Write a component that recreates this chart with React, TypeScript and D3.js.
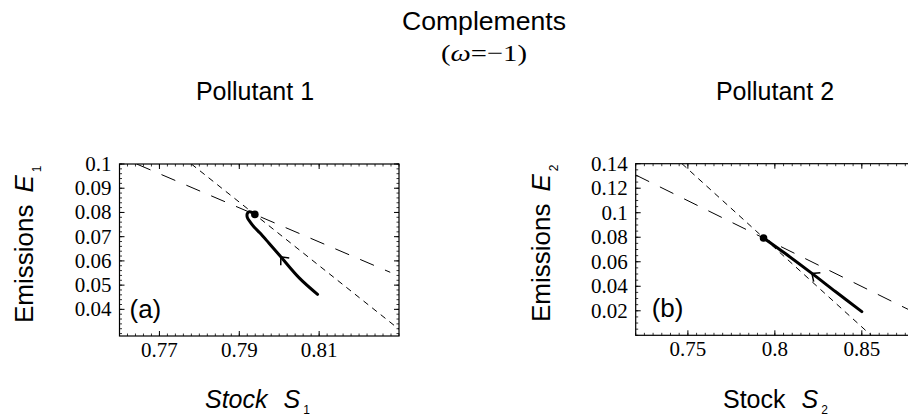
import React from "react";
import * as d3 from "d3";

const W = 908;
const H = 416;

const SANS = "'Liberation Sans', Arial, Helvetica, sans-serif";
const SERIF = "'Liberation Serif', 'Times New Roman', serif";

// Pollutant 1 (a)
const p1XDomain = [0.76, 0.83];
const p1YDomain = [0.029, 0.1];
const p1XTicks = [0.77, 0.79, 0.81];
const p1YTicks = [0.04, 0.05, 0.06, 0.07, 0.08, 0.09, 0.1];
const p1MinorX = 0.002;
const p1MinorY = 0.002;
const p1LongDash = [[0.7643, 0.1], [0.8278, 0.0553]];
const p1ShortDash = [[0.778, 0.1], [0.83, 0.0318]];
const p1Path = [
  [0.8096, 0.0462], [0.805, 0.053], [0.8004, 0.0617], [0.7975, 0.0672],
  [0.7952, 0.0715], [0.7937, 0.074], [0.7927, 0.0761], [0.792, 0.078],
  [0.792, 0.0795], [0.7925, 0.0803], [0.7932, 0.08], [0.7939, 0.0792],
];
const p1Steady = [0.7939, 0.0792];
const p1Arrow = 2;

// Pollutant 2 (b)
const p2XDomain = [0.72, 0.88];
const p2YDomain = [0, 0.14];
const p2XTicks = [0.75, 0.8, 0.85];
const p2YTicks = [0.02, 0.04, 0.06, 0.08, 0.1, 0.12, 0.14];
const p2MinorX = 0.005;
const p2MinorY = 0.005;
const p2LongDash = [[0.72, 0.1308], [0.88, 0.0188]];
const p2ShortDash = [[0.7466, 0.14], [0.8553, 0]];
const p2Path = [
  [0.85, 0.0193], [0.835, 0.0355], [0.8213, 0.0505], [0.806, 0.0667], [0.7935, 0.0794],
];
const p2Steady = [0.7935, 0.0794];
const p2Arrow = 2;

function Panel(props: any) {
  const { id, left, right, top, bottom, xDomain, yDomain, xTicks, yTicks, minorX, minorY,
    longDash, shortDash, path, steady, arrowIdx, tag, tagDx } = props;
  const x = d3.scaleLinear().domain(xDomain).range([left, right]);
  const y = d3.scaleLinear().domain(yDomain).range([bottom, top]);

  const minorXs = d3.range(Math.ceil(xDomain[0] / minorX - 1e-6), Math.floor(xDomain[1] / minorX + 1e-6) + 1)
    .map((k) => k * minorX);
  const minorYs = d3.range(Math.ceil(yDomain[0] / minorY - 1e-6), Math.floor(yDomain[1] / minorY + 1e-6) + 1)
    .map((k) => k * minorY);

  const line = d3.line<number[]>().x((d) => x(d[0])).y((d) => y(d[1]));
  const curve = d3.line<number[]>().x((d) => x(d[0])).y((d) => y(d[1])).curve(d3.curveCatmullRom);

  // arrow head on trajectory, pointing the way it travels
  const a = path[arrowIdx];
  const b = path[arrowIdx + 1];
  const tx = x(a[0]), ty = y(a[1]);
  const ang = Math.atan2(y(b[1]) - ty, x(b[0]) - tx);
  const back = ang + Math.PI;
  const L = 8.5;
  const spread = 0.72;
  const arrowD = `M${tx + L * Math.cos(back - spread)},${ty + L * Math.sin(back - spread)}L${tx},${ty}L${tx + L * Math.cos(back + spread)},${ty + L * Math.sin(back + spread)}`;

  return (
    <g>
      <defs>
        <clipPath id={id}>
          <rect x={left} y={top} width={right - left} height={bottom - top} />
        </clipPath>
      </defs>
      <g clipPath={`url(#${id})`}>
        <path d={line(longDash) as string} fill="none" stroke="#000" strokeWidth={1} strokeDasharray="15,12" />
        <path d={line(shortDash) as string} fill="none" stroke="#000" strokeWidth={1} strokeDasharray="6,5" />
        <path d={curve(path) as string} fill="none" stroke="#000" strokeWidth={3} strokeLinecap="round" />
        <path d={arrowD} fill="none" stroke="#000" strokeWidth={1.5} />
        <circle cx={x(steady[0])} cy={y(steady[1])} r={3.8} fill="#000" />
      </g>
      <rect x={left} y={top} width={right - left} height={bottom - top} fill="none" stroke="#000" strokeWidth={1.2} />
      {minorXs.map((v, i) => (
        <g key={"mx" + i}>
          <line x1={x(v)} x2={x(v)} y1={bottom} y2={bottom - 2.5} stroke="#000" strokeWidth={0.8} />
          <line x1={x(v)} x2={x(v)} y1={top} y2={top + 2.5} stroke="#000" strokeWidth={0.8} />
        </g>
      ))}
      {minorYs.map((v, i) => (
        <g key={"my" + i}>
          <line x1={left} x2={left + 2.5} y1={y(v)} y2={y(v)} stroke="#000" strokeWidth={0.8} />
          <line x1={right} x2={right - 2.5} y1={y(v)} y2={y(v)} stroke="#000" strokeWidth={0.8} />
        </g>
      ))}
      {xTicks.map((v: number) => (
        <g key={"x" + v}>
          <line x1={x(v)} x2={x(v)} y1={bottom} y2={bottom - 5} stroke="#000" />
          <line x1={x(v)} x2={x(v)} y1={top} y2={top + 5} stroke="#000" />
          <text x={x(v)} y={bottom + 21} textAnchor="middle" fontFamily={SERIF} fontSize={21}>{String(v)}</text>
        </g>
      ))}
      {yTicks.map((v: number) => (
        <g key={"y" + v}>
          <line x1={left} x2={left + 5} y1={y(v)} y2={y(v)} stroke="#000" />
          <line x1={right} x2={right - 5} y1={y(v)} y2={y(v)} stroke="#000" />
          <text x={left - 8} y={y(v) + 7} textAnchor="end" fontFamily={SERIF} fontSize={21}>{String(v)}</text>
        </g>
      ))}
      <text x={left + tagDx} y={bottom - 18} fontFamily={SANS} fontSize={26}>{tag}</text>
    </g>
  );
}

export default function App() {
  return (
    <svg width={W} height={H} style={{ position: "absolute", left: 0, top: 0, background: "#fff" }}>
      <rect width={W} height={H} fill="#fff" />
      <text x={484} y={30} textAnchor="middle" fontFamily={SANS} fontSize={26} textLength={164} lengthAdjust="spacingAndGlyphs">Complements</text>
      <text x={484} y={61} textAnchor="middle" fontFamily={SERIF} fontSize={24} textLength={86} lengthAdjust="spacingAndGlyphs">
        (<tspan fontStyle="italic">ω</tspan>=−1)
      </text>
      <text x={255} y={100} textAnchor="middle" fontFamily={SANS} fontSize={25}>Pollutant 1</text>
      <text x={775} y={100} textAnchor="middle" fontFamily={SANS} fontSize={25}>Pollutant 2</text>

      <Panel id="c1" left={119.5} right={399} top={164} bottom={336}
        xDomain={p1XDomain} yDomain={p1YDomain} xTicks={p1XTicks} yTicks={p1YTicks}
        minorX={p1MinorX} minorY={p1MinorY} longDash={p1LongDash} shortDash={p1ShortDash}
        path={p1Path} steady={p1Steady} arrowIdx={p1Arrow} tag="(a)" tagDx={10} />
      <Panel id="c2" left={635.7} right={914} top={163.7} bottom={335.3}
        xDomain={p2XDomain} yDomain={p2YDomain} xTicks={p2XTicks} yTicks={p2YTicks}
        minorX={p2MinorX} minorY={p2MinorY} longDash={p2LongDash} shortDash={p2ShortDash}
        path={p2Path} steady={p2Steady} arrowIdx={p2Arrow} tag="(b)" tagDx={16} />

      <text transform="translate(33,323) rotate(-90)" fontFamily={SANS} fontSize={26}>
        Emissions<tspan dx={12} fontStyle="italic">E</tspan><tspan dx={3} dy={8} fontSize={12}>1</tspan>
      </text>
      <text transform="translate(550,322) rotate(-90)" fontFamily={SANS} fontSize={26}>
        Emissions<tspan dx={12} fontStyle="italic">E</tspan><tspan dx={3} dy={8} fontSize={12}>2</tspan>
      </text>

      <text x={205} y={408} fontFamily={SANS} fontSize={25}>
        <tspan fontStyle="italic">Stock</tspan><tspan dx={16} fontStyle="italic">S</tspan><tspan dx={3} dy={6} fontSize={12}>1</tspan>
      </text>
      <text x={723} y={408} fontFamily={SANS} fontSize={25}>
        Stock<tspan dx={16} fontStyle="italic">S</tspan><tspan dx={3} dy={6} fontSize={12}>2</tspan>
      </text>
    </svg>
  );
}
